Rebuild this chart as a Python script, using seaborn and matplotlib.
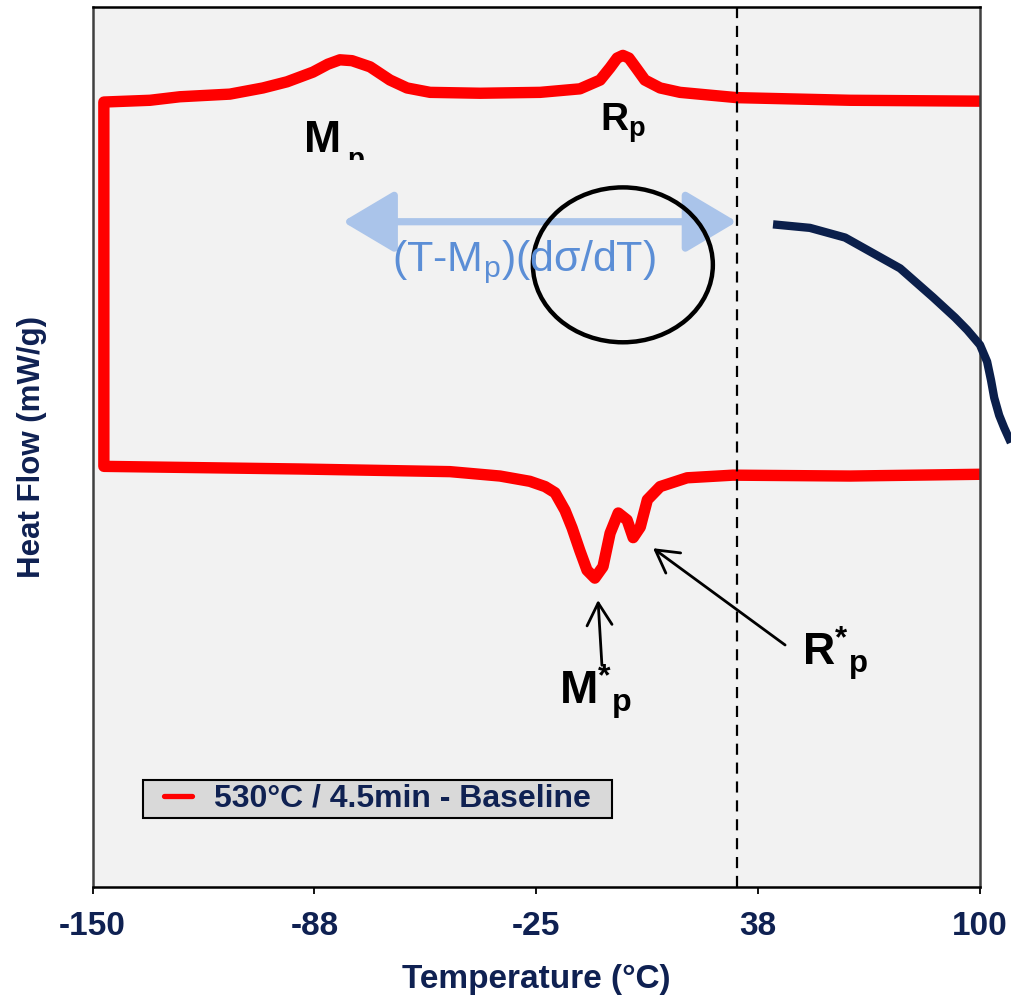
import numpy as np
import pandas as pd
import matplotlib
matplotlib.use("Agg")
import matplotlib.pyplot as plt
from matplotlib.patches import Ellipse, Rectangle
from matplotlib.lines import Line2D
from matplotlib.legend_handler import HandlerLine2D
import seaborn as sns

# ---------------- data ----------------
# cooling (top) branch, from 100 down to -147, then vertical jump, heating branch back to 100
cool_T = [100.0, 63.4, 31.5, 15.5, 9.9, 5.6, 3.1, 1.1, -0.6, -2.2, -4.2, -7.0, -12.7,
          -23.9, -40.8, -54.9, -61.4, -66.2, -71.8, -76.9, -80.3, -83.7, -87.9, -95.2,
          -102.0, -111.3, -125.4, -133.8, -146.8]
cool_HF = [89.3, 89.4, 89.7, 90.3, 90.8, 91.7, 93.1, 94.2, 94.5, 94.2, 93.1, 91.7, 90.7,
           90.3, 90.2, 90.3, 90.8, 91.7, 93.2, 93.9, 94.0, 93.5, 92.6, 91.5,
           90.8, 90.1, 89.8, 89.4, 89.2]

heat_T = [-146.8, -91.5, -49.3, -35.2, -26.8, -22.5, -19.7, -16.9, -14.9, -12.7, -10.7,
          -8.5, -6.2, -4.2, -1.9, 0.6, 2.3, 4.3, 6.3, 9.9, 17.5, 30.4, 63.4, 100.0]
heat_HF = [47.8, 47.5, 47.2, 46.7, 46.1, 45.5, 44.8, 42.8, 40.8, 38.2, 36.0,
           35.1, 36.4, 40.2, 42.5, 41.7, 39.7, 40.9, 44.0, 45.5, 46.5, 46.8, 46.7, 46.9]

# dark connector curve on the right
conn_T = [41.7, 52.1, 62.0, 68.2, 77.5, 86.8, 93.0, 96.4, 100.0, 102.0, 103.1, 104.0,
          105.4, 106.8, 108.7]
conn_HF = [75.3, 74.9, 73.8, 72.4, 70.3, 67.0, 64.7, 63.3, 61.6, 59.7, 57.6, 55.6,
           53.6, 52.2, 50.5]

tick_pos = [-150, -87.5, -25, 37.5, 100]
tick_labels = ["-150", "-88", "-25", "38", "100"]
T_marker = 31.5
legend_label = "530°C / 4.5min - Baseline"

# ---------------- style ----------------
sns.set_theme(style="white")
plt.rcParams['font.family'] = ['Liberation Sans', 'DejaVu Sans']
plt.rcParams['mathtext.fontset'] = 'custom'
plt.rcParams['mathtext.rm'] = 'Liberation Sans'
plt.rcParams['mathtext.bf'] = 'Liberation Sans:bold'
plt.rcParams['mathtext.it'] = 'Liberation Sans:italic'

NAVY = '#0f2152'
RED = '#ff0000'
narrow = ['Liberation Sans Narrow', 'DejaVu Sans Condensed', 'Liberation Sans']

fig = plt.figure(figsize=(10.11, 9.97), dpi=100)
ax = fig.add_axes([92.5 / 1011, 110 / 997, 887.5 / 1011, 880 / 997])
ax.set_facecolor('#f2f2f2')

curve = pd.DataFrame({
    'T': cool_T + heat_T,
    'HF': cool_HF + heat_HF,
})
sns.lineplot(data=curve, x='T', y='HF', sort=False, estimator=None, color=RED,
             lw=8.2, ax=ax, solid_joinstyle='round', solid_capstyle='butt')

ax.set_xlim(-150, 100)
ax.set_ylim(0, 100)

# dashed vertical marker
ax.axvline(T_marker, color='black', lw=1.6, ls=(0, (5, 3.5)), zorder=3)

# spines and ticks
for s in ax.spines.values():
    s.set_visible(True)
    s.set_color('black')
    s.set_linewidth(1.8)
ax.spines['right'].set_color('#404040')
ax.spines['left'].set_color('#404040')
ax.set_xticks(tick_pos)
ax.set_xticklabels(tick_labels)
ax.set_yticks([])
ax.tick_params(axis='x', direction='out', length=5, width=1.3, color='black', pad=12,
               labelsize=24, labelcolor=NAVY, bottom=True)
for lab in ax.get_xticklabels():
    lab.set_fontfamily(narrow)
    lab.set_fontweight('bold')

ax.set_xlabel('Temperature (°C)', fontsize=24, fontweight='bold', color=NAVY,
              family=narrow, labelpad=16)
ax.set_ylabel('Heat Flow (mW/g)', fontsize=22.5, fontweight='bold', color=NAVY, labelpad=33)

# peak labels (the subscript of M_p is cut by its text box in the original)
clip = Rectangle((0, 0.826), 1, 0.174, transform=ax.transAxes, visible=False)
ax.add_patch(clip)
ax.text(-90.5, 83.5, 'M', fontsize=32, fontweight='bold', ha='left',
        va='baseline', color='black')
tp = ax.text(-78.3, 81.8, 'p', fontsize=20, fontweight='bold', ha='left',
             va='baseline', color='black')
tp.set_clip_path(clip)
tp.set_clip_on(True)
ax.text(-0.5, 86.8, r'R$_\mathbf{p}$', fontsize=28, fontweight='bold', ha='center',
        va='center', color='black')

# blue double arrow and expression
ax.annotate('', xy=(T_marker, 75.6), xytext=(-79.5, 75.6),
            arrowprops=dict(arrowstyle='<|-|>,head_length=1.6,head_width=0.95',
                            mutation_scale=20, lw=5.2, color='#aac4ea',
                            shrinkA=0, shrinkB=0), zorder=4)
ax.text(-28.5, 71.0, r'(T-M$_\mathregular{p}$)(d$\mathregular{σ}$/dT)',
        fontsize=31, color='#5b8ed6', ha='center', va='center',
        family=['Liberation Sans', 'DejaVu Sans'], zorder=5)

# circle
ax.add_patch(Ellipse((-0.6, 70.7), 50.7, 17.6, fill=False, ec='black', lw=3.2, zorder=4))

# connector curve (extends outside axes)
ax.plot(conn_T, conn_HF, color='#0b1f4b', lw=6, clip_on=False, solid_joinstyle='round',
        solid_capstyle='butt', zorder=5)

# M*p and R*p arrows and labels
arrow_kw = dict(arrowstyle='->,head_length=0.8,head_width=0.45', lw=2, color='black',
                shrinkA=0, shrinkB=0, mutation_scale=20)
ax.annotate('', xy=(-7.6, 32.6), xytext=(-6.5, 25.2), arrowprops=arrow_kw)
ax.annotate('', xy=(7.9, 38.5), xytext=(45.1, 27.5), arrowprops=arrow_kw)
ax.text(-18.6, 20.7, r'$\mathbf{M}^{\mathbf{*}}{}_{\mathbf{p}}$', fontsize=33,
        ha='left', va='baseline', color='black')
ax.text(50.0, 25.2, r'$\mathbf{R}^{\mathbf{*}}{}_{\mathbf{p}}$', fontsize=32,
        ha='left', va='baseline', color='black')

# legend
handle = Line2D([0], [0], color=RED, lw=3.8)
leg = ax.legend([handle], [legend_label + "  "], loc='upper left',
                bbox_to_anchor=(0.057, 0.1216),
                handler_map={Line2D: HandlerLine2D(xpad=0.55)},
                borderaxespad=0, frameon=True, fancybox=False, handlelength=1.4,
                handletextpad=0.7, borderpad=0.12,
                prop={'size': 23, 'weight': 'bold', 'family': ['Liberation Sans', 'DejaVu Sans']})
leg.get_frame().set_facecolor('#d9d9d9')
leg.get_frame().set_edgecolor('black')
leg.get_frame().set_linewidth(1.5)
leg.get_frame().set_alpha(1)
for txt in leg.get_texts():
    txt.set_color(NAVY)

fig.savefig('out.png', dpi=100, facecolor='white')
